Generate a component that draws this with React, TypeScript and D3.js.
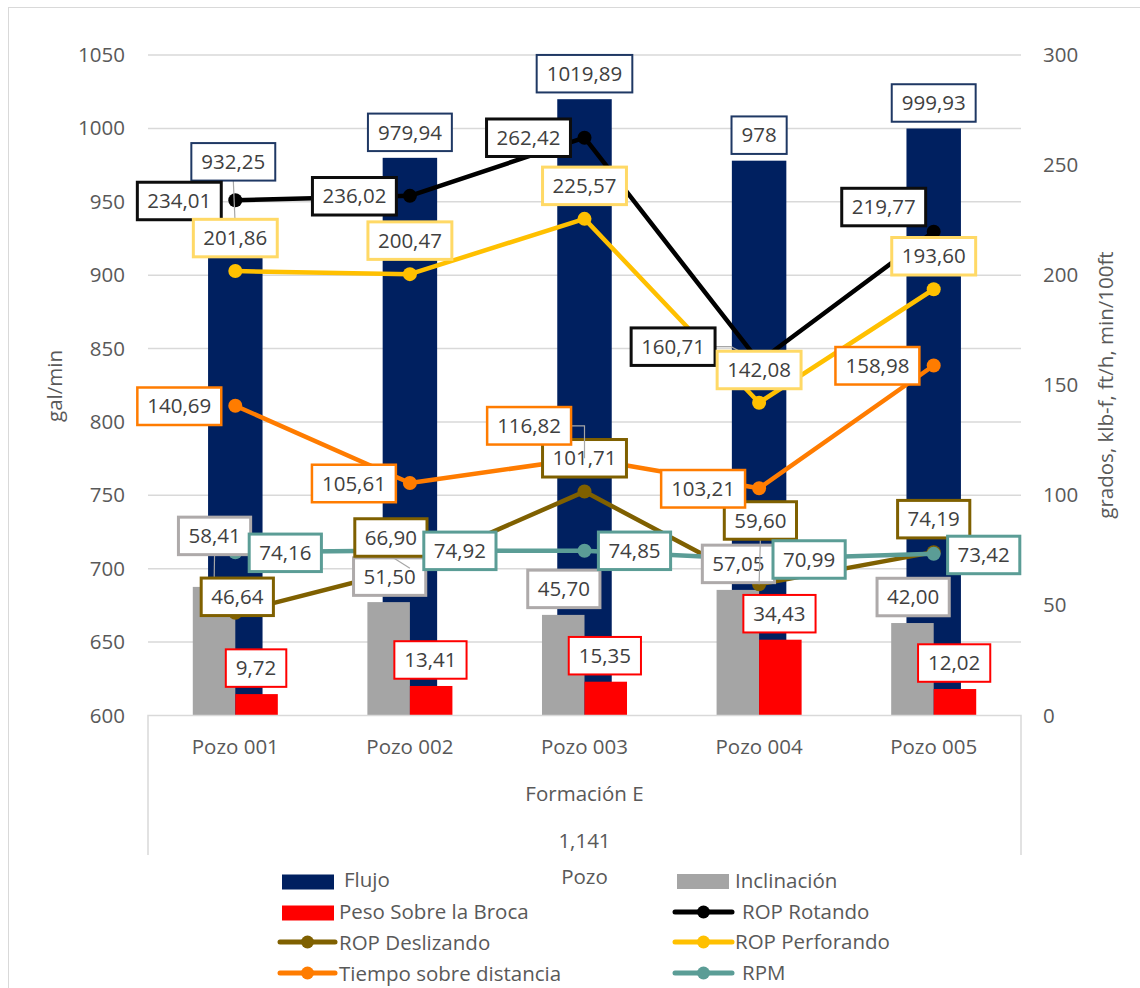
import React, { useEffect, useRef } from "react";
import * as d3 from "d3";

// ---- data ----
const categories = ["Pozo 001", "Pozo 002", "Pozo 003", "Pozo 004", "Pozo 005"];
const groupLabel = "Formación E";
const groupSubLabel = "1,141";
const xAxisTitle = "Pozo";
const leftAxisTitle = "gal/min";
const rightAxisTitle = "grados, klb-f, ft/h, min/100ft";

const flujo = [932.25, 979.94, 1019.89, 978, 999.93];
const inclinacion = [58.41, 51.5, 45.7, 57.05, 42.0];
const pesoBroca = [9.72, 13.41, 15.35, 34.43, 12.02];
const ropRotando = [234.01, 236.02, 262.42, 160.71, 219.77];
const ropDeslizando = [46.64, 66.9, 101.71, 59.6, 74.19];
const ropPerforando = [201.86, 200.47, 225.57, 142.08, 193.6];
const tiempoDistancia = [140.69, 105.61, 116.82, 103.21, 158.98];
const rpm = [74.16, 74.92, 74.85, 70.99, 73.42];

const leftTicks = [600, 650, 700, 750, 800, 850, 900, 950, 1000, 1050];
const rightTicks = [0, 50, 100, 150, 200, 250, 300];

// ---- label placement (pixel offsets of each label box centre from its point) ----
type Off = [number, number];
const offFlujo: Off[] = [[-2, -66], [0, -25.5], [0, -25.5], [0, -25.5], [0, -25.5]];
const offIncl: Off[] = [[0.5, -51], [1, -25.5], [0.6, -26], [0.6, -26], [0.7, -26]];
const offPeso: Off[] = [[-0.5, -26], [-0.7, -26], [-0.9, -26], [-0.9, -26], [-0.8, -26]];
const offRotando: Off[] = [[-56, 0.7], [-55.5, 0.4], [-56, 0], [-86, -15], [-50, -24.6]];
const offDeslizando: Off[] = [[2, -16], [-19, -30.7], [0, -33.3], [1.3, -63.8], [0, -33]];
const offPerforando: Off[] = [[0, -33], [0, -33.5], [0, -33], [0, -32.7], [0, -33]];
const offTiempo: Off[] = [[-56, 0.5], [-56, 0.5], [-55.4, -32.5], [-56, 0.5], [-56.3, 0.3]];
const offRpm: Off[] = [[50, 0.6], [50, 0.3], [50, 0.1], [50, 0.3], [50, 1.1]];

type Leader = null | "bottom" | "rightElbow" | "rightDiag";
const leadFlujo: Leader[] = ["bottom", null, null, null, null];
const leadIncl: Leader[] = ["bottom", null, null, null, null];
const leadRotando: Leader[] = [null, null, null, "rightDiag", null];
const leadDeslizando: Leader[] = [null, "bottom", null, "bottom", null];
const leadTiempo: Leader[] = [null, null, "rightElbow", null, null];
const noLeaders: Leader[] = [null, null, null, null, null];

const FONT = "'Open Sans', 'Noto Sans', sans-serif";
const FS = 20.5;
const TEXT = "#595959";
const LABEL_TEXT = "#404040";
const GRID = "#D9D9D9";

const C = {
  flujo: "#002060",
  incl: "#A5A5A5",
  peso: "#FF0000",
  rotando: "#000000",
  deslizando: "#7F6000",
  perforando: "#FFC000",
  tiempo: "#FF7C00",
  rpm: "#5B9D96",
};

const fmtGeneral = (v: number) => String(v).replace(".", ",");
const fmtFixed = (v: number) => v.toFixed(2).replace(".", ",");

export default function App() {
  const ref = useRef<SVGSVGElement>(null);

  useEffect(() => {
    const svg = d3.select(ref.current!);
    svg.selectAll("*").remove();

    const plotL = 148, plotR = 1021, plotT = 55, plotB = 715.5;

    const yL = d3.scaleLinear().domain([600, 1050]).range([plotB, plotT]);
    const yR = d3.scaleLinear().domain([0, 300]).range([plotB, plotT]);
    const xMain = d3.scaleBand<string>().domain(categories).range([plotL, plotR])
      .paddingInner(0.688).paddingOuter(0.344);
    const xSec = d3.scaleBand<string>().domain(categories).range([plotL, plotR])
      .paddingInner(0.513).paddingOuter(0.2565);
    const xSub = d3.scaleBand<string>().domain(["incl", "peso"]).range([0, xSec.bandwidth()]);
    const cx = (i: number) => xMain(categories[i])! + xMain.bandwidth() / 2;

    // chart frame
    svg.append("rect").attr("x", 8.5).attr("y", 7.5).attr("width", 1140).attr("height", 1000)
      .attr("fill", "#fff").attr("stroke", GRID).attr("stroke-width", 1);

    // gridlines
    svg.append("g").selectAll("line").data(leftTicks.filter((t) => t !== 600)).join("line")
      .attr("x1", plotL).attr("x2", plotR)
      .attr("y1", (d) => yL(d)).attr("y2", (d) => yL(d))
      .attr("stroke", GRID).attr("stroke-width", 1.5);

    // tick labels
    svg.append("g").selectAll("text").data(leftTicks).join("text")
      .attr("x", 125).attr("y", (d) => yL(d) + 7).attr("text-anchor", "end")
      .attr("font-family", FONT).attr("font-size", FS).attr("fill", TEXT).text((d) => String(d));
    svg.append("g").selectAll("text").data(rightTicks).join("text")
      .attr("x", 1043).attr("y", (d) => yR(d) + 7).attr("text-anchor", "start")
      .attr("font-family", FONT).attr("font-size", FS).attr("fill", TEXT).text((d) => String(d));

    // axis titles
    svg.append("text").attr("transform", `translate(62,386) rotate(-90)`)
      .attr("text-anchor", "middle").attr("font-family", FONT).attr("font-size", FS)
      .attr("fill", TEXT).text(leftAxisTitle);
    svg.append("text").attr("transform", `translate(1113,385) rotate(-90)`)
      .attr("text-anchor", "middle").attr("font-family", FONT).attr("font-size", FS)
      .attr("fill", TEXT).text(rightAxisTitle);

    // primary bars
    svg.append("g").selectAll("rect").data(flujo).join("rect")
      .attr("x", (_, i) => xMain(categories[i])!).attr("width", xMain.bandwidth())
      .attr("y", (d) => yL(d)).attr("height", (d) => yL(600) - yL(d)).attr("fill", C.flujo);

    // secondary bars
    const secBars: [string, number[], string][] = [["incl", inclinacion, C.incl], ["peso", pesoBroca, C.peso]];
    secBars.forEach(([key, vals, col]) => {
      svg.append("g").selectAll("rect").data(vals).join("rect")
        .attr("x", (_, i) => xSec(categories[i])! + xSub(key)!).attr("width", xSub.bandwidth())
        .attr("y", (d) => yR(d)).attr("height", (d) => yR(0) - yR(d)).attr("fill", col);
    });

    // category axis box
    svg.append("path").attr("d", `M${plotL},855 V${plotB} H${plotR} V855`)
      .attr("fill", "none").attr("stroke", GRID).attr("stroke-width", 1.5);
    svg.append("g").selectAll("text").data(categories).join("text")
      .attr("x", (_, i) => cx(i)).attr("y", 754).attr("text-anchor", "middle")
      .attr("font-family", FONT).attr("font-size", FS).attr("fill", TEXT).text((d) => d);
    const midX = (plotL + plotR) / 2;
    [[groupLabel, 801], [groupSubLabel, 848], [xAxisTitle, 884]].forEach(([t, y]) => {
      svg.append("text").attr("x", midX).attr("y", y as number).attr("text-anchor", "middle")
        .attr("font-family", FONT).attr("font-size", FS).attr("fill", TEXT).text(t as string);
    });

    // lines
    const lineSeries: [number[], string][] = [
      [ropRotando, C.rotando],
      [ropDeslizando, C.deslizando],
      [ropPerforando, C.perforando],
      [tiempoDistancia, C.tiempo],
      [rpm, C.rpm],
    ];
    const lineGen = d3.line<number>().x((_, i) => cx(i)).y((d) => yR(d));
    lineSeries.forEach(([vals, col]) => {
      const g = svg.append("g");
      g.append("path").attr("d", lineGen(vals)!).attr("fill", "none")
        .attr("stroke", col).attr("stroke-width", 4.5).attr("stroke-linejoin", "round");
      g.selectAll("circle").data(vals).join("circle")
        .attr("cx", (_, i) => cx(i)).attr("cy", (d) => yR(d)).attr("r", 7).attr("fill", col);
    });

    // data labels
    const labelLayer = svg.append("g");
    const drawLabels = (
      vals: number[], fmt: (v: number) => string, anchor: (i: number) => [number, number],
      offs: Off[], border: string, bw: number, leaders: Leader[]
    ) => {
      vals.forEach((v, i) => {
        const [px, py] = anchor(i);
        const bx = px + offs[i][0], by = py + offs[i][1];
        const g = labelLayer.append("g");
        const lead = g.append("path").attr("fill", "none").attr("stroke", "#A6A6A6").attr("stroke-width", 1.2);
        const rect = g.append("rect").attr("fill", "#fff").attr("stroke", border).attr("stroke-width", bw);
        const t = g.append("text").attr("x", bx).attr("y", by + 7.2).attr("text-anchor", "middle")
          .attr("font-family", FONT).attr("font-size", FS).attr("fill", LABEL_TEXT).text(fmt(v));
        const w = (t.node() as SVGTextElement).getComputedTextLength() + 20;
        const h = 37.5;
        rect.attr("x", bx - w / 2).attr("y", by - h / 2).attr("width", w).attr("height", h);
        const kind = leaders[i];
        if (kind === "bottom") {
          lead.attr("d", `M${bx},${by + h / 2} L${px},${py}`);
        } else if (kind === "rightElbow") {
          lead.attr("d", `M${bx + w / 2},${by} H${px} V${py}`);
        } else if (kind === "rightDiag") {
          lead.attr("d", `M${bx + w / 2},${by} h16 L${px},${py}`);
        } else {
          lead.remove();
        }
      });
    };

    const barAnchorMain = (i: number): [number, number] => [cx(i), yL(flujo[i])];
    const barAnchorSec = (key: string, vals: number[]) => (i: number): [number, number] =>
      [xSec(categories[i])! + xSub(key)! + xSub.bandwidth() / 2, yR(vals[i])];
    const pointAnchor = (vals: number[]) => (i: number): [number, number] => [cx(i), yR(vals[i])];

    drawLabels(flujo, fmtGeneral, barAnchorMain, offFlujo, "#1F3864", 2, leadFlujo);
    drawLabels(inclinacion, fmtFixed, barAnchorSec("incl", inclinacion), offIncl, "#AEAAAA", 3, leadIncl);
    drawLabels(pesoBroca, fmtFixed, barAnchorSec("peso", pesoBroca), offPeso, "#FF0000", 2, noLeaders);
    drawLabels(ropRotando, fmtFixed, pointAnchor(ropRotando), offRotando, "#0D0D0D", 3, leadRotando);
    drawLabels(ropDeslizando, fmtFixed, pointAnchor(ropDeslizando), offDeslizando, C.deslizando, 3, leadDeslizando);
    drawLabels(ropPerforando, fmtFixed, pointAnchor(ropPerforando), offPerforando, "#FFD966", 3, noLeaders);
    drawLabels(tiempoDistancia, fmtFixed, pointAnchor(tiempoDistancia), offTiempo, C.tiempo, 2.5, leadTiempo);
    drawLabels(rpm, fmtFixed, pointAnchor(rpm), offRpm, C.rpm, 3, noLeaders);

    // legend
    const legend = svg.append("g").attr("font-family", FONT).attr("font-size", FS).attr("fill", TEXT);
    type Item = { name: string; color: string; kind: "box" | "line"; x0: number; x1: number; cy: number; tx: number; ty: number };
    const items: Item[] = [
      { name: "Flujo", color: C.flujo, kind: "box", x0: 282, x1: 334, cy: 882, tx: 344, ty: 887.3 },
      { name: "Inclinación", color: C.incl, kind: "box", x0: 677, x1: 729, cy: 881.5, tx: 735, ty: 888.3 },
      { name: "Peso Sobre la Broca", color: C.peso, kind: "box", x0: 282, x1: 334, cy: 913, tx: 339, ty: 919 },
      { name: "ROP Rotando", color: C.rotando, kind: "line", x0: 675, x1: 732, cy: 912, tx: 742, ty: 919.3 },
      { name: "ROP Deslizando", color: C.deslizando, kind: "line", x0: 280, x1: 335, cy: 942, tx: 339, ty: 950 },
      { name: "ROP Perforando", color: C.perforando, kind: "line", x0: 675, x1: 732, cy: 942, tx: 735, ty: 949.3 },
      { name: "Tiempo sobre distancia", color: C.tiempo, kind: "line", x0: 280, x1: 335, cy: 973, tx: 339, ty: 980.7 },
      { name: "RPM", color: C.rpm, kind: "line", x0: 675, x1: 732, cy: 973, tx: 742, ty: 980 },
    ];
    items.forEach((it) => {
      if (it.kind === "box") {
        legend.append("rect").attr("x", it.x0).attr("y", it.cy - 7.5).attr("width", it.x1 - it.x0)
          .attr("height", 15).attr("fill", it.color);
      } else {
        legend.append("line").attr("x1", it.x0).attr("x2", it.x1).attr("y1", it.cy).attr("y2", it.cy)
          .attr("stroke", it.color).attr("stroke-width", 5).attr("stroke-linecap", "round");
        legend.append("circle").attr("cx", (it.x0 + it.x1) / 2).attr("cy", it.cy).attr("r", 6.5)
          .attr("fill", it.color);
      }
      legend.append("text").attr("x", it.tx).attr("y", it.ty).text(it.name);
    });
  }, []);

  return (
    <svg
      ref={ref}
      width={1140}
      height={988}
      style={{ position: "absolute", left: 0, top: 0, background: "#fff" }}
    />
  );
}
